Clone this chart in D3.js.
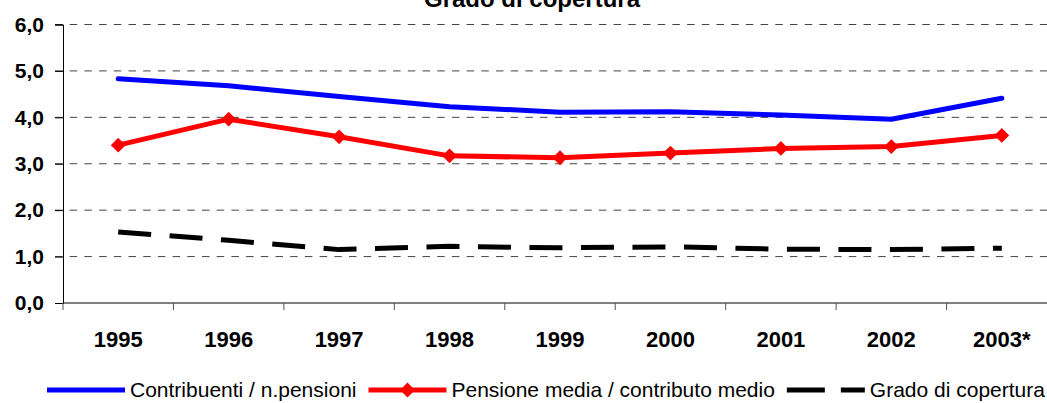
<!DOCTYPE html>
<html>
<head>
<meta charset="utf-8">
<script src="https://cdn.jsdelivr.net/npm/d3@7"></script>
<style>
  body { margin: 0; background: #fff; }
  svg { display: block; font-family: Arial, "Liberation Sans", sans-serif; }
</style>
</head>
<body>
<div id="chart"></div>
<script>
const years = ["1995", "1996", "1997", "1998", "1999", "2000", "2001", "2002", "2003*"];
const contribuenti = [4.83, 4.68, 4.45, 4.23, 4.11, 4.12, 4.05, 3.96, 4.41];
const pensioneMedia = [3.40, 3.96, 3.58, 3.17, 3.13, 3.23, 3.33, 3.37, 3.61];
const gradoCopertura = [1.53, 1.35, 1.15, 1.22, 1.19, 1.21, 1.16, 1.15, 1.18];
const yTicks = [0, 1, 2, 3, 4, 5, 6];
const seriesNames = ["Contribuenti / n.pensioni", "Pensione media / contributo medio", "Grado di copertura"];

const W = 1047, H = 403;

const svg = d3.select("#chart").append("svg")
    .attr("width", W)
    .attr("height", H);

// plot area runs a little past the right edge, like the original
const x = d3.scaleBand().domain(years).range([63, 1057]).padding(0);
const y = d3.scaleLinear().domain([0, 6]).range([303, 24.5]);
const cx = d => x(d) + x.bandwidth() / 2;

// title (cut at the top in the original)
svg.append("text")
    .attr("x", 532).attr("y", 7)
    .attr("text-anchor", "middle")
    .style("font-size", "24px").style("font-weight", "bold")
    .text("Grado di copertura");

// horizontal dashed gridlines
svg.append("g").selectAll("line")
    .data(yTicks.filter(d => d > 0))
    .enter().append("line")
    .attr("x1", 55).attr("x2", W)
    .attr("y1", d => y(d)).attr("y2", d => y(d))
    .attr("stroke", "#444")
    .attr("stroke-width", 1)
    .attr("stroke-dasharray", "7.5,7.2");

// y axis
const yAxis = svg.append("g")
    .attr("transform", "translate(63,0)")
    .call(d3.axisLeft(y).tickValues(yTicks).tickSize(8).tickPadding(11)
        .tickFormat(d => d3.format(".1f")(d).replace(".", ",")));
yAxis.select(".domain").attr("stroke", "#000");
yAxis.selectAll(".tick line").attr("stroke", "#000");
yAxis.selectAll("text")
    .style("font-size", "21px").style("font-weight", "bold")
    .attr("fill", "#000");

// x axis with ticks between categories
const xAxis = svg.append("g").attr("transform", "translate(0,303)");
xAxis.append("line")
    .attr("x1", 63).attr("x2", W)
    .attr("stroke", "#000");
xAxis.selectAll(".tk")
    .data(years)
    .enter().append("line")
    .attr("class", "tk")
    .attr("x1", d => x(d)).attr("x2", d => x(d))
    .attr("y1", 0).attr("y2", 7)
    .attr("stroke", "#555");
xAxis.selectAll("text")
    .data(years)
    .enter().append("text")
    .attr("x", d => cx(d))
    .attr("y", 44)
    .attr("text-anchor", "middle")
    .style("font-size", "22px").style("font-weight", "bold")
    .text(d => d);

const line = d3.line()
    .x((d, i) => cx(years[i]))
    .y(d => y(d));

// Grado di copertura (dashed black)
svg.append("path")
    .datum(gradoCopertura)
    .attr("d", line)
    .attr("fill", "none")
    .attr("stroke", "#000")
    .attr("stroke-width", 5)
    .attr("stroke-dasharray", "33,18.5");

// Contribuenti (blue)
svg.append("path")
    .datum(contribuenti)
    .attr("d", line)
    .attr("fill", "none")
    .attr("stroke", "#0000ff")
    .attr("stroke-width", 5)
    .attr("stroke-linejoin", "round")
    .attr("stroke-linecap", "round");

// Pensione media (red with diamonds)
svg.append("path")
    .datum(pensioneMedia)
    .attr("d", line)
    .attr("fill", "none")
    .attr("stroke", "#ff0000")
    .attr("stroke-width", 5)
    .attr("stroke-linejoin", "round");

const diamond = d3.symbol().type(d3.symbolDiamond2).size(140);
svg.append("g").selectAll("path")
    .data(pensioneMedia)
    .enter().append("path")
    .attr("d", diamond)
    .attr("transform", (d, i) => "translate(" + cx(years[i]) + "," + y(d) + ")")
    .attr("fill", "#ff0000");

// legend
const legend = svg.append("g").attr("transform", "translate(0,390)");
const styles = [
    {color: "#0000ff", dash: null, marker: false},
    {color: "#ff0000", dash: null, marker: true},
    {color: "#000", dash: "38,16", marker: false}
];
let lx = 47;
seriesNames.forEach((name, i) => {
    const s = styles[i];
    legend.append("line")
        .attr("x1", lx).attr("x2", lx + 78)
        .attr("stroke", s.color)
        .attr("stroke-width", 5)
        .attr("stroke-dasharray", s.dash);
    if (s.marker) {
        legend.append("path")
            .attr("d", diamond)
            .attr("transform", "translate(" + (lx + 39) + ",0)")
            .attr("fill", s.color);
    }
    const t = legend.append("text")
        .attr("x", lx + 83)
        .attr("y", 7)
        .style("font-size", "21px")
        .text(name);
    lx += 83 + t.node().getComputedTextLength() + 12;
});
</script>
</body>
</html>
